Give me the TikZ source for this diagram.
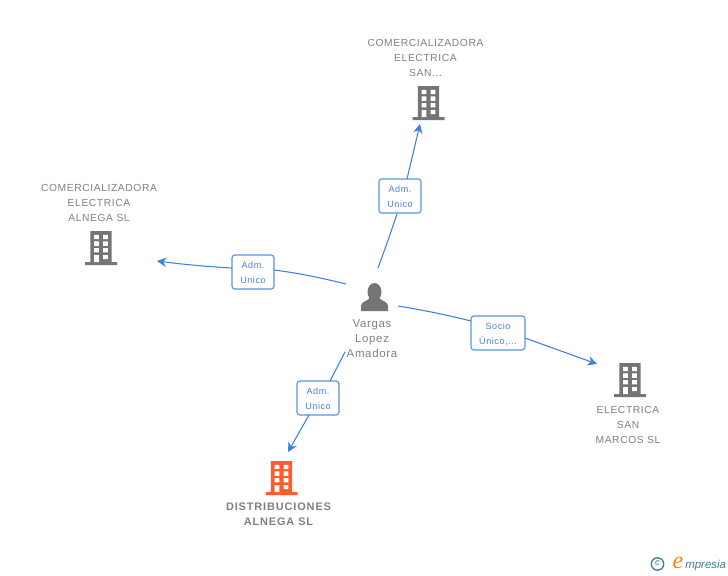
\documentclass[tikz,border=0pt]{standalone}
\usepackage{fontspec}
\setmainfont{Liberation Sans}
\newfontfamily\gapfont[LetterSpace=6]{Liberation Sans}
\newfontfamily\boldgap[LetterSpace=8]{Liberation Sans Bold}
\newfontfamily\logofont{Liberation Serif Italic}
\newfontfamily\logosans{Liberation Sans Italic}
\usetikzlibrary{arrows.meta}
\newcommand\lowerstrut{\rule{0pt}{6.6pt}}
\definecolor{edgeblue}{HTML}{3F7FE0}
\definecolor{boxblue}{HTML}{5B93E3}
\definecolor{labelblue}{HTML}{4A80D8}
\definecolor{nodegrey}{HTML}{757575}
\definecolor{namegrey}{HTML}{808080}
\definecolor{redorange}{HTML}{FF5A30}
\definecolor{logoteal}{HTML}{3F7F94}
\tikzset{
 x=0.75pt,y=-0.75pt,
 conn/.style={draw=edgeblue,line width=0.8pt},
 connarrow/.style={conn,-{Stealth[length=7pt,width=7pt]}},
 relbox/.style={draw=boxblue,line width=0.85pt,rounded corners=2.2pt,fill=white,inner sep=0pt,align=center,text=labelblue,font=\gapfont\fontsize{6.8pt}{11.2pt}\selectfont},
 nametext/.style={align=center,text=namegrey,inner sep=0pt,font=\gapfont\fontsize{7.7pt}{11.25pt}\selectfont},
 boldname/.style={align=center,text=namegrey,inner sep=0pt,font=\boldgap\fontsize{8.2pt}{11.25pt}\selectfont},
 pics/tower/.style={code={
  \fill[#1] (-10.7,-17) rectangle (10.7,14) (-16,14) rectangle (16,17);
  \fill[white]
   (-7,-13.2) rectangle (-2.2,-8.8) (2,-13.2) rectangle (6.8,-8.8)
   (-7,-6.6) rectangle (-2.2,-2.2) (2,-6.6) rectangle (6.8,-2.2)
   (-7,0) rectangle (-2.2,4.4) (2,0) rectangle (6.8,4.4)
   (-7,7) rectangle (-2.2,14) (2,7) rectangle (6.8,11);
 }},
}
\begin{document}
\begin{tikzpicture}
\useasboundingbox (0,0) rectangle (728,575);
% icons
\pic at (428.5,103) {tower=nodegrey};
\pic at (101,248) {tower=nodegrey};
\pic at (630,380) {tower=nodegrey};
\pic at (281.5,478) {tower=redorange};
% person
\fill[nodegrey] (374.5,292) ellipse (7 and 9);
\fill[nodegrey] (361,311) -- (361,306) .. controls (361,302) and (366,301.5) .. (370,298) -- (379,298) .. controls (383,301.5) and (388,302) .. (388,306) -- (388,311) -- cycle;
% names
\node[nametext] (top) at (425.5,57.7) {COMERCIALIZADORA\\ELECTRICA\\SAN...};
\node[nametext] (left) at (99,202.7) {COMERCIALIZADORA\\ELECTRICA\\ALNEGA SL};
\node[nametext] (right) at (628,424.7) {ELECTRICA\\SAN\\MARCOS SL};
\node[boldname] (bottom) at (278.5,514.5) {DISTRIBUCIONES\\ALNEGA SL};
\node[nametext,font=\gapfont\fontsize{8.6pt}{11.25pt}\selectfont] (person) at (372,338.5) {Vargas\\Lopez\\Amadora};
% relation boxes
\node[relbox,minimum width=31.5pt,minimum height=25.5pt] (rtop) at (400,196) {\lowerstrut Adm.\\Unico};
\node[relbox,minimum width=31.5pt,minimum height=25.5pt] (rleft) at (253,272) {\lowerstrut Adm.\\Unico};
\node[relbox,minimum width=40.5pt,minimum height=25.5pt] (rright) at (498,333) {\lowerstrut Socio\\Único,...};
\node[relbox,minimum width=31.5pt,minimum height=25.5pt] (rbottom) at (318,398) {\lowerstrut Adm.\\Unico};
% free ends
\coordinate (ptop) at (378,268);
\coordinate (pleft) at (346,284);
\coordinate (pright) at (398,306);
\coordinate (pbottom) at (345,352);
\coordinate (ttop) at (420,124);
\coordinate (tleft) at (157,261);
\coordinate (tright) at (597,364);
\coordinate (tbottom) at (288,452);
\coordinate (b1) at (397,214);
\coordinate (b2) at (407,179);
\coordinate (b3) at (274,270);
\coordinate (b4) at (232,268);
\coordinate (b5) at (471,321);
\coordinate (b6) at (525,338);
\coordinate (b7) at (330,381);
\coordinate (b8) at (309,415);
% connectors
\draw[conn] (ptop) .. controls (385,249) and (391,232) .. (b1);
\draw[connarrow] (b2) -- (ttop);
\draw[conn] (pleft) .. controls (322,278) and (298,273) .. (b3);
\draw[connarrow] (b4) .. controls (205,266.5) and (180,264) .. (tleft);
\draw[conn] (pright) .. controls (423,310) and (447,315) .. (b5);
\draw[connarrow] (b6) -- (tright);
\draw[conn] (pbottom) -- (b7);
\draw[connarrow] (b8) -- (tbottom);
% logo
\draw[logoteal,line width=1pt] (657.5,564) circle (6.2);
\node[inner sep=0pt,text=logoteal,font=\logosans\fontsize{7pt}{7pt}\selectfont] (copy) at (657.5,563.5) {c};
\node[inner sep=0pt,text=orange,font=\logofont\fontsize{18pt}{18pt}\selectfont] (logoe) at (678,563) {e};
\node[inner sep=0pt,anchor=west,text=logoteal,font=\logosans\fontsize{8.6pt}{10pt}\selectfont] (logot) at (685,566) {mpresia};
\end{tikzpicture}
\end{document}
